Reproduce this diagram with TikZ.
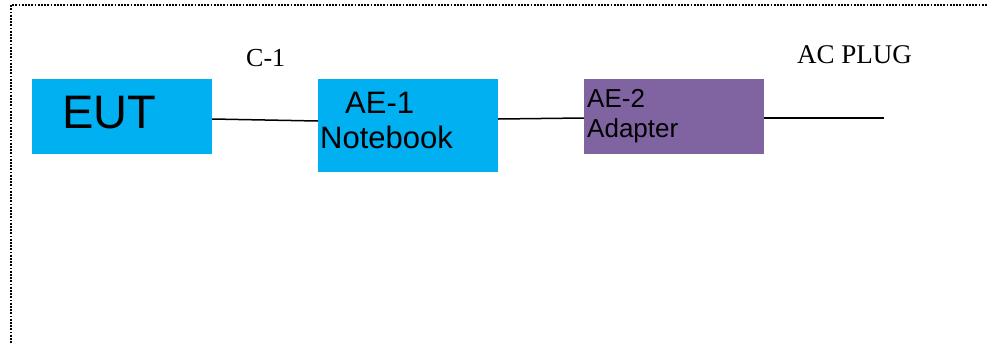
\documentclass[tikz,border=0pt]{standalone}
\usepackage{fontspec}
\setmainfont{Liberation Serif}
\setsansfont{Liberation Sans}
\definecolor{boxcyan}{HTML}{00B0F0}
\definecolor{boxpurple}{HTML}{8064A2}
\tikzset{
	unit/.style={rectangle, inner sep=0pt, minimum width=180pt},
	unittext/.style={anchor=base west, inner sep=0pt, font=\sffamily},
	cable/.style={line width=1.5pt}
}

\begin{document}
\begin{tikzpicture}[x=1pt, y=-1pt]
		\useasboundingbox (0, 0) rectangle (987, 343);
		\draw[line width=1.8pt, dash pattern=on 1.8pt off 1.4pt] (11, 343) -- (11, 5) -- (987, 5);
		\node[unit, fill=boxcyan, minimum height=75pt] (eut) at (122, 116.5) {};
		\node[unit, fill=boxcyan, minimum height=93pt] (ae1) at (408, 125.5) {};
		\node[unit, fill=boxpurple, minimum height=75pt] (ae2) at (674, 116.5) {};
		\node[unittext, font=\sffamily\fontsize{47}{47}\selectfont] (euttext) at (62, 128) {EUT};
		\node[unittext, font=\sffamily\fontsize{31}{31}\selectfont] (ae1name) at (345, 113) {AE-1};
		\node[unittext, font=\sffamily\fontsize{31}{31}\selectfont] (ae1kind) at (320, 148) {Notebook};
		\node[unittext, font=\sffamily\fontsize{26}{26}\selectfont] (ae2name) at (587, 107) {AE-2};
		\node[unittext, font=\sffamily\fontsize{26}{26}\selectfont] (ae2kind) at (587, 137) {Adapter};
		\node[anchor=base west, inner sep=0pt, font=\fontsize{26}{26}\selectfont] (c1) at (246, 66) {C-1};
		\node[anchor=base west, inner sep=0pt, font=\fontsize{27}{27}\selectfont] (acplug) at (797, 63) {AC PLUG};
		\coordinate (plugend) at (884, 118);
		\draw[cable] ([yshift=-2.5pt]eut.east) -- ([yshift=4.5pt]ae1.west);
		\draw[cable] ([yshift=6.5pt]ae1.east) -- ([yshift=-1.5pt]ae2.west);
		\draw[cable] ([yshift=-1.5pt]ae2.east) -- (plugend);
	\end{tikzpicture}
\end{document}
